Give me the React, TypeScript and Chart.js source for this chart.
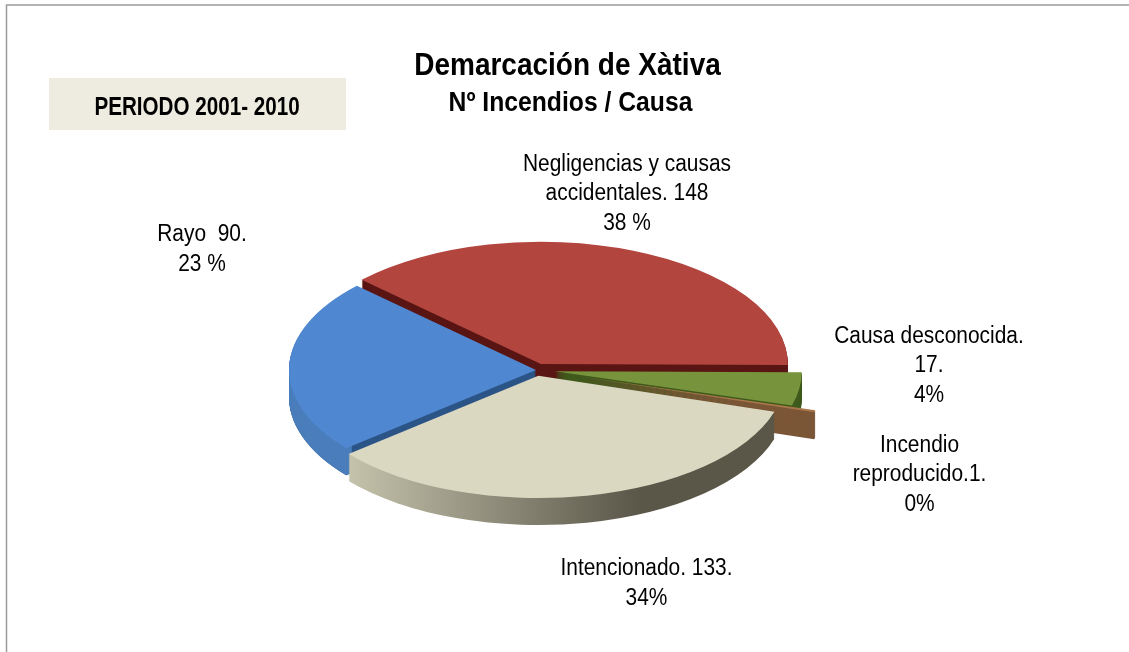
import React, { useEffect, useRef } from "react";
import { Chart, registerables } from "chart.js";

Chart.register(...registerables);

const categories = ["Negligencias y causas accidentales", "Causa desconocida", "Incendio reproducido", "Intencionado", "Rayo"];
const values = [148, 17, 1, 133, 90];
const titleText = "Demarcación de Xàtiva";
const subtitleText = "Nº Incendios / Causa";
const periodText = "PERIODO 2001- 2010";
const labelLines = [
  ["Negligencias y causas", "accidentales. 148", "38 %"],
  ["Causa desconocida.", "17.", "4%"],
  ["Incendio", "reproducido.1.", "0%"],
  ["Intencionado. 133.", "34%"],
  ["Rayo  90.", "23 %"],
];

// styling and placement
const faceColors = ["#B3453F", "#77933C", "#A9764A", "#DBD8C2", "#4F87D1"];
const wallColors = ["#5A1614", "#3F5A1C", "#7B5637", "#6B6859", "#2C5587"];
const rimColors = [null, null, null, null, "#4A7DBB"];
const explode = [13, 19, 44, 12, 0];
const drawOrder = [0, 1, 4, 2, 3];
const labelAnchors = [
  { x: 627, y: 164.5 },
  { x: 929, y: 336.5 },
  { x: 919.5, y: 445.5 },
  { x: 646.5, y: 569 },
  { x: 202, y: 235 },
];
const pieCenter = { x: 536, y: 370 };
const pieRadius = 247;
const tilt = 0.495;
const depth = 27;
const lineStep = 29.5;
const family = "'Liberation Sans'";

function squeezed(ctx: any, text: string, x: number, y: number, factor: number) {
  ctx.fillText(text, x, y, ctx.measureText(text).width * factor);
}

const decorPlugin = {
  id: "decor",
  beforeDraw(chart: any) {
    const ctx = chart.ctx;
    ctx.save();
    ctx.fillStyle = "#FFFFFF";
    ctx.fillRect(0, 0, chart.width, chart.height);
    ctx.strokeStyle = "#9A9A9A";
    ctx.lineWidth = 1.5;
    ctx.beginPath();
    ctx.moveTo(6.5, chart.height);
    ctx.lineTo(6.5, 5);
    ctx.lineTo(chart.width, 5);
    ctx.stroke();
    ctx.fillStyle = "#EEEBE0";
    ctx.fillRect(49, 78, 297, 52);
    ctx.restore();
  },
  beforeDatasetDraw(chart: any) {
    const ctx = chart.ctx;
    const arcs = chart.getDatasetMeta(0).data;
    const rimGradient = ctx.createLinearGradient(350, 0, 640, 0);
    rimGradient.addColorStop(0, "#C4C2AA");
    rimGradient.addColorStop(0.5, "#8F8C7B");
    rimGradient.addColorStop(1, "#5A5648");
    ctx.save();
    ctx.translate(0, pieCenter.y);
    ctx.scale(1, tilt);
    const paint = (arc: any, color: any, offset: number, lift: number, inner: number) => {
      const mid = (arc.startAngle + arc.endAngle) / 2;
      const ghost = Object.create(arc);
      ghost.x = pieCenter.x + Math.cos(mid) * offset;
      ghost.y = Math.sin(mid) * offset + lift / tilt;
      ghost.innerRadius = inner;
      ghost.outerRadius = pieRadius;
      ghost.options = { ...arc.options, backgroundColor: color, borderWidth: 0, offset: 0, spacing: 0 };
      ghost.draw(ctx);
    };
    for (const i of drawOrder) {
      const arc = arcs[i];
      const wall = i === 3 ? rimGradient : wallColors[i];
      for (let k = depth; k >= 1; k--) paint(arc, wall, explode[i], k, 0);
      const rim = rimColors[i];
      if (rim) for (let k = depth; k >= 1; k--) paint(arc, rim, explode[i], k, pieRadius - 8);
      paint(arc, faceColors[i], explode[i], 0, 0);
    }
    ctx.restore();
    return false;
  },
  afterDraw(chart: any) {
    const ctx = chart.ctx;
    ctx.save();
    ctx.fillStyle = "#000000";
    ctx.textAlign = "center";
    ctx.textBaseline = "middle";
    ctx.font = `bold 32px ${family}`;
    squeezed(ctx, titleText, 567.5, 66.5, 0.875);
    ctx.font = `bold 27px ${family}`;
    squeezed(ctx, subtitleText, 570.5, 104, 0.915);
    ctx.font = `bold 25px ${family}`;
    squeezed(ctx, periodText, 197, 108, 0.825);
    ctx.font = `23.5px ${family}`;
    labelLines.forEach((lines, i) => {
      lines.forEach((line, j) => {
        squeezed(ctx, line, labelAnchors[i].x, labelAnchors[i].y + j * lineStep, 0.89);
      });
    });
    ctx.restore();
  },
};

export default function App() {
  const ref = useRef<HTMLCanvasElement>(null);
  useEffect(() => {
    document.body.style.margin = "0";
    const chart = new Chart(ref.current as HTMLCanvasElement, {
      type: "pie",
      data: {
        labels: categories,
        datasets: [{ data: values, backgroundColor: faceColors, borderWidth: 0, clip: false } as any],
      },
      options: {
        animation: false,
        responsive: false,
        rotation: -46.5,
        plugins: {
          legend: { display: false },
          tooltip: { enabled: false },
        },
      } as any,
      plugins: [decorPlugin as any],
    });
    return () => chart.destroy();
  }, []);
  return (
    <div style={{ position: "fixed", left: 0, top: 0, width: 1129, height: 652, overflow: "hidden", background: "#fff" }}>
      <canvas ref={ref} width={1129} height={652} style={{ display: "block", width: 1129, height: 652 }} />
    </div>
  );
}
